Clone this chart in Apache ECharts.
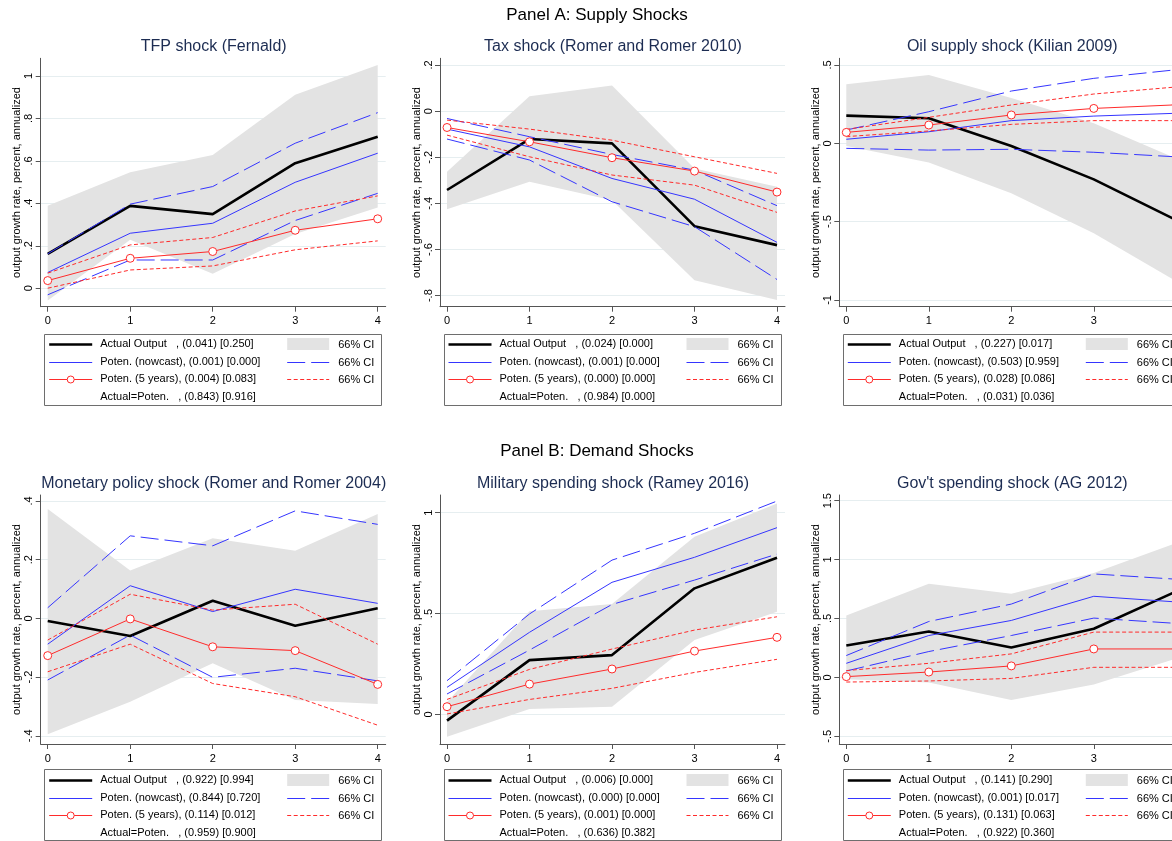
<!DOCTYPE html>
<html><head><meta charset="utf-8">
<script src="https://cdn.jsdelivr.net/npm/echarts@6/dist/echarts.min.js"></script>
<style>html,body{margin:0;padding:0;background:#fff;overflow:hidden}#c{width:1210px;height:841px}</style>
</head><body><div id="c"></div><script>
// ---------- data ----------
const horizons = [0, 1, 2, 3, 4];
const supTitles = ['Panel A: Supply Shocks', 'Panel B: Demand Shocks'];
const yName = 'output growth rate, percent, annualized';
const ciLabel = '66% CI';

// TFP shock (Fernald)
const tfpTitle = 'TFP shock (Fernald)';
const tfpTicks = [0, 0.2, 0.4, 0.6, 0.8, 1];
const tfpRange = [-0.087, 1.083];
const tfpActual = [0.162, 0.388, 0.349, 0.589, 0.714];
const tfpActualLo = [-0.058, 0.228, 0.068, 0.256, 0.380];
const tfpActualHi = [0.389, 0.546, 0.628, 0.911, 1.052];
const tfpNow = [0.074, 0.259, 0.306, 0.499, 0.636];
const tfpNowLo = [-0.031, 0.133, 0.133, 0.319, 0.447];
const tfpNowHi = [0.162, 0.396, 0.479, 0.683, 0.827];
const tfp5y = [0.036, 0.141, 0.173, 0.273, 0.327];
const tfp5yLo = [0.0, 0.086, 0.105, 0.181, 0.223];
const tfp5yHi = [0.071, 0.204, 0.239, 0.364, 0.435];
const tfpLegend = ['Actual Output   , (0.041) [0.250]', 'Poten. (nowcast), (0.001) [0.000]', 'Poten. (5 years), (0.004) [0.083]', 'Actual=Poten.   , (0.843) [0.916]'];

// Tax shock (Romer and Romer 2010)
const taxTitle = 'Tax shock (Romer and Romer 2010)';
const taxTicks = [-0.8, -0.6, -0.4, -0.2, 0, 0.2];
const taxRange = [-0.848, 0.229];
const taxActual = [-0.342, -0.121, -0.140, -0.499, -0.581];
const taxActualLo = [-0.425, -0.306, -0.386, -0.733, -0.819];
const taxActualHi = [-0.263, 0.065, 0.111, -0.249, -0.328];
const taxNow = [-0.078, -0.155, -0.292, -0.382, -0.569];
const taxNowLo = [-0.121, -0.212, -0.393, -0.501, -0.730];
const taxNowHi = [-0.032, -0.111, -0.188, -0.256, -0.410];
const tax5y = [-0.071, -0.133, -0.202, -0.260, -0.351];
const tax5yLo = [-0.104, -0.198, -0.277, -0.321, -0.439];
const tax5yHi = [-0.039, -0.078, -0.126, -0.198, -0.270];
const taxLegend = ['Actual Output   , (0.024) [0.000]', 'Poten. (nowcast), (0.001) [0.000]', 'Poten. (5 years), (0.000) [0.000]', 'Actual=Poten.   , (0.984) [0.000]'];

// Oil supply shock (Kilian 2009)
const oilTitle = 'Oil supply shock (Kilian 2009)';
const oilTicks = [-1, -0.5, 0, 0.5];
const oilRange = [-1.043, 0.543];
const oilActual = [0.177, 0.160, -0.017, -0.230, -0.490];
const oilActualLo = [-0.017, -0.123, -0.319, -0.574, -0.880];
const oilActualHi = [0.377, 0.436, 0.290, 0.128, -0.096];
const oilNow = [0.026, 0.074, 0.145, 0.174, 0.192];
const oilNowLo = [-0.032, -0.043, -0.038, -0.057, -0.086];
const oilNowHi = [0.085, 0.202, 0.334, 0.415, 0.470];
const oil5y = [0.070, 0.117, 0.181, 0.223, 0.246];
const oil5yLo = [0.043, 0.079, 0.121, 0.145, 0.145];
const oil5yHi = [0.089, 0.166, 0.245, 0.315, 0.360];
const oilLegend = ['Actual Output   , (0.227) [0.017]', 'Poten. (nowcast), (0.503) [0.959]', 'Poten. (5 years), (0.028) [0.086]', 'Actual=Poten.   , (0.031) [0.036]'];

// Monetary policy shock (Romer and Romer 2004)
const monTitle = 'Monetary policy shock (Romer and Romer 2004)';
const monTicks = [-0.4, -0.2, 0, 0.2, 0.4];
const monRange = [-0.428, 0.42];
const monActual = [-0.009, -0.060, 0.060, -0.025, 0.034];
const monActualLo = [-0.395, -0.284, -0.153, -0.278, -0.292];
const monActualHi = [0.372, 0.163, 0.273, 0.230, 0.355];
const monNow = [-0.088, 0.111, 0.023, 0.099, 0.051];
const monNowLo = [-0.210, -0.057, -0.201, -0.170, -0.213];
const monNowHi = [0.036, 0.281, 0.247, 0.366, 0.320];
const mon5y = [-0.127, -0.002, -0.097, -0.110, -0.225];
const mon5yLo = [-0.182, -0.088, -0.222, -0.267, -0.364];
const mon5yHi = [-0.074, 0.082, 0.028, 0.048, -0.088];
const monLegend = ['Actual Output   , (0.922) [0.994]', 'Poten. (nowcast), (0.844) [0.720]', 'Poten. (5 years), (0.114) [0.012]', 'Actual=Poten.   , (0.959) [0.900]'];

// Military spending shock (Ramey 2016)
const milTitle = 'Military spending shock (Ramey 2016)';
const milTicks = [0, 0.5, 1];
const milRange = [-0.147, 1.088];
const milActual = [-0.031, 0.269, 0.294, 0.625, 0.777];
const milActualLo = [-0.111, 0.026, 0.038, 0.369, 0.509];
const milActualHi = [0.060, 0.512, 0.547, 0.881, 1.046];
const milNow = [0.134, 0.407, 0.655, 0.779, 0.926];
const milNowLo = [0.101, 0.319, 0.545, 0.666, 0.795];
const milNowHi = [0.167, 0.498, 0.765, 0.898, 1.058];
const mil5y = [0.038, 0.150, 0.225, 0.314, 0.382];
const mil5yLo = [0.002, 0.074, 0.129, 0.208, 0.273];
const mil5yHi = [0.074, 0.223, 0.324, 0.418, 0.484];
const milLegend = ['Actual Output   , (0.006) [0.000]', 'Poten. (nowcast), (0.000) [0.000]', 'Poten. (5 years), (0.001) [0.000]', 'Actual=Poten.   , (0.636) [0.382]'];

// Gov't spending shock (AG 2012)
const govTitle = "Gov't spending shock (AG 2012)";
const govTicks = [-0.5, 0, 0.5, 1, 1.5];
const govRange = [-0.566, 1.548];
const govActual = [0.270, 0.389, 0.253, 0.412, 0.730];
const govActualLo = [-0.017, -0.043, -0.193, -0.060, 0.160];
const govActualHi = [0.526, 0.795, 0.710, 0.886, 1.140];
const govNow = [0.119, 0.355, 0.483, 0.688, 0.640];
const govNowLo = [0.054, 0.219, 0.355, 0.503, 0.458];
const govNowHi = [0.185, 0.474, 0.622, 0.878, 0.833];
const gov5y = [0.006, 0.045, 0.097, 0.241, 0.241];
const gov5yLo = [-0.040, -0.031, -0.009, 0.085, 0.085];
const gov5yHi = [0.057, 0.119, 0.199, 0.384, 0.384];
const govLegend = ['Actual Output   , (0.141) [0.290]', 'Poten. (nowcast), (0.001) [0.017]', 'Poten. (5 years), (0.131) [0.063]', 'Actual=Poten.   , (0.922) [0.360]'];

// ---------- build ----------
const panels = [
  {title: tfpTitle, ticks: tfpTicks, range: tfpRange, act: tfpActual, lo: tfpActualLo, hi: tfpActualHi, now: tfpNow, nowLo: tfpNowLo, nowHi: tfpNowHi, p5: tfp5y, p5Lo: tfp5yLo, p5Hi: tfp5yHi, legend: tfpLegend},
  {title: taxTitle, ticks: taxTicks, range: taxRange, act: taxActual, lo: taxActualLo, hi: taxActualHi, now: taxNow, nowLo: taxNowLo, nowHi: taxNowHi, p5: tax5y, p5Lo: tax5yLo, p5Hi: tax5yHi, legend: taxLegend},
  {title: oilTitle, ticks: oilTicks, range: oilRange, act: oilActual, lo: oilActualLo, hi: oilActualHi, now: oilNow, nowLo: oilNowLo, nowHi: oilNowHi, p5: oil5y, p5Lo: oil5yLo, p5Hi: oil5yHi, legend: oilLegend},
  {title: monTitle, ticks: monTicks, range: monRange, act: monActual, lo: monActualLo, hi: monActualHi, now: monNow, nowLo: monNowLo, nowHi: monNowHi, p5: mon5y, p5Lo: mon5yLo, p5Hi: mon5yHi, legend: monLegend},
  {title: milTitle, ticks: milTicks, range: milRange, act: milActual, lo: milActualLo, hi: milActualHi, now: milNow, nowLo: milNowLo, nowHi: milNowHi, p5: mil5y, p5Lo: mil5yLo, p5Hi: mil5yHi, legend: milLegend},
  {title: govTitle, ticks: govTicks, range: govRange, act: govActual, lo: govActualLo, hi: govActualHi, now: govNow, nowLo: govNowLo, nowHi: govNowHi, p5: gov5y, p5Lo: gov5yLo, p5Hi: gov5yHi, legend: govLegend}
];

const font = 'Arial, "Liberation Sans", Helvetica, sans-serif';
const blue = '#3535ff', red = '#ff2b2b', bandColor = '#e3e3e3', axisColor = '#555', gridColor = '#e6eef0', titleColor = '#1c2c52';
const colLeft = [40.7, 440.0, 839.3];
const rowCfg = [
  {top: 58.3, h: 248.4, titleY: 46.5, supY: 15, legTop: 334.5, legRow: 344.3},
  {top: 495, h: 249, titleY: 483.3, supY: 451, legTop: 769.5, legRow: 780}
];
const plotW = 345, xMin = -0.085, xMax = 4.097;
const fmt = v => String(+(+v).toFixed(2)).replace(/^(-?)0\./, '$1.');
const px = v => Math.round(v) + 0.5;

const grids = [], xAxes = [], yAxes = [], series = [], graphics = [];
supTitles.forEach((t, r) => graphics.push({type: 'text', x: 597, y: rowCfg[r].supY, style: {text: t, font: '17px ' + font, fill: '#000', textAlign: 'center', textVerticalAlign: 'middle'}}));

panels.forEach((p, i) => {
  const c = i % 3, r = Math.floor(i / 3);
  const L = colLeft[c], R = rowCfg[r];
  grids.push({left: L, top: R.top, width: plotW, height: R.h, containLabel: false});
  xAxes.push({type: 'value', gridIndex: i, min: xMin, max: xMax,
    axisLine: {show: true, onZero: false, lineStyle: {color: axisColor, width: 1}},
    axisTick: {show: true, length: 5, customValues: horizons, lineStyle: {color: axisColor}},
    axisLabel: {customValues: horizons, margin: 9, fontSize: 11, color: '#000', fontFamily: font},
    splitLine: {show: false}});
  yAxes.push({type: 'value', gridIndex: i, min: p.range[0], max: p.range[1],
    name: yName, nameLocation: 'middle', nameGap: 18, nameRotate: 90,
    nameTextStyle: {fontSize: 11, color: '#000', fontFamily: font},
    axisLine: {show: true, onZero: false, lineStyle: {color: axisColor, width: 1}},
    axisTick: {show: true, length: 5, customValues: p.ticks, lineStyle: {color: axisColor}},
    axisLabel: {customValues: p.ticks, rotate: 90, margin: 6, fontSize: 11, color: '#000', fontFamily: font, formatter: fmt},
    splitLine: {show: true, lineStyle: {color: gridColor, width: 1}}});
  const xy = arr => horizons.map((h, k) => [h, arr[k]]);
  const base = {type: 'line', xAxisIndex: i, yAxisIndex: i, silent: true, animation: false};
  // 66% CI band of actual output, polygon through the axis scales
  series.push({type: 'custom', xAxisIndex: i, yAxisIndex: i, silent: true, animation: false, z: 1,
    data: horizons.map((h, k) => [h, p.lo[k], p.hi[k]]),
    encode: {x: 0, y: [1, 2]},
    renderItem: (params, api) => {
      if (params.dataIndex !== 0) return null;
      const n = horizons.length;
      const top = horizons.map((h, k) => api.coord([h, p.hi[k]]));
      const bot = [];
      for (let k = n - 1; k >= 0; k--) bot.push(api.coord([horizons[k], p.lo[k]]));
      return {type: 'polygon', shape: {points: top.concat(bot)}, style: {fill: bandColor}};
    }});
  series.push(Object.assign({}, base, {data: xy(p.act), symbol: 'none', lineStyle: {color: '#000', width: 2.6}, z: 3}));
  series.push(Object.assign({}, base, {data: xy(p.now), symbol: 'none', lineStyle: {color: blue, width: 1}, z: 4}));
  series.push(Object.assign({}, base, {data: xy(p.nowLo), symbol: 'none', lineStyle: {color: blue, width: 1, type: [18, 6]}, z: 4}));
  series.push(Object.assign({}, base, {data: xy(p.nowHi), symbol: 'none', lineStyle: {color: blue, width: 1, type: [18, 6]}, z: 4}));
  series.push(Object.assign({}, base, {data: xy(p.p5Lo), symbol: 'none', lineStyle: {color: red, width: 1, type: [4, 2.5]}, z: 5}));
  series.push(Object.assign({}, base, {data: xy(p.p5Hi), symbol: 'none', lineStyle: {color: red, width: 1, type: [4, 2.5]}, z: 5}));
  series.push(Object.assign({}, base, {data: xy(p.p5), symbol: 'circle', symbolSize: 8, showSymbol: true,
    itemStyle: {color: '#fff', borderColor: red, borderWidth: 1}, lineStyle: {color: red, width: 1}, z: 6}));

  // subplot title
  graphics.push({type: 'text', x: L + plotW / 2 + 0.5, y: R.titleY, style: {text: p.title, font: '16px ' + font, fill: titleColor, textAlign: 'center', textVerticalAlign: 'middle'}});
  // legend box
  const BL = L + 3.5;
  graphics.push({type: 'rect', shape: {x: px(BL), y: R.legTop, width: 337, height: 71}, style: {fill: 'none', stroke: '#6e6e6e', lineWidth: 1}});
  const rowStep = 17.5;
  p.legend.forEach((t, k) => {
    const yy = R.legRow + k * rowStep;
    graphics.push({type: 'text', x: BL + 56, y: yy, style: {text: t, font: '11px ' + font, fill: '#000', textAlign: 'left', textVerticalAlign: 'middle'}});
  });
  const y0 = px(R.legRow), y1 = px(R.legRow + rowStep), y2 = px(R.legRow + 2 * rowStep);
  graphics.push({type: 'line', shape: {x1: BL + 5, y1: y0, x2: BL + 48, y2: y0}, style: {stroke: '#000', lineWidth: 2.6}});
  graphics.push({type: 'line', shape: {x1: BL + 5, y1: y1, x2: BL + 48, y2: y1}, style: {stroke: blue, lineWidth: 1}});
  graphics.push({type: 'line', shape: {x1: BL + 5, y1: y2, x2: BL + 48, y2: y2}, style: {stroke: red, lineWidth: 1}});
  graphics.push({type: 'circle', shape: {cx: BL + 26.5, cy: y2, r: 3.5}, style: {fill: '#fff', stroke: red, lineWidth: 1}, z: 10});
  graphics.push({type: 'rect', shape: {x: BL + 243, y: y0 - 6.5, width: 42, height: 12}, style: {fill: bandColor}});
  graphics.push({type: 'line', shape: {x1: BL + 243, y1: y1, x2: BL + 285, y2: y1}, style: {stroke: blue, lineWidth: 1, lineDash: [18, 6]}});
  graphics.push({type: 'line', shape: {x1: BL + 243, y1: y2, x2: BL + 285, y2: y2}, style: {stroke: red, lineWidth: 1, lineDash: [4, 2.5]}});
  [y0, y1, y2].forEach(yy => graphics.push({type: 'text', x: BL + 294, y: yy, style: {text: ciLabel, font: '11px ' + font, fill: '#000', textAlign: 'left', textVerticalAlign: 'middle'}}));
});

const chart = echarts.init(document.getElementById('c'), null, {renderer: 'canvas'});
chart.setOption({
  backgroundColor: '#fff',
  animation: false,
  grid: grids, xAxis: xAxes, yAxis: yAxes, series: series, graphic: graphics
});
</script></body></html>
